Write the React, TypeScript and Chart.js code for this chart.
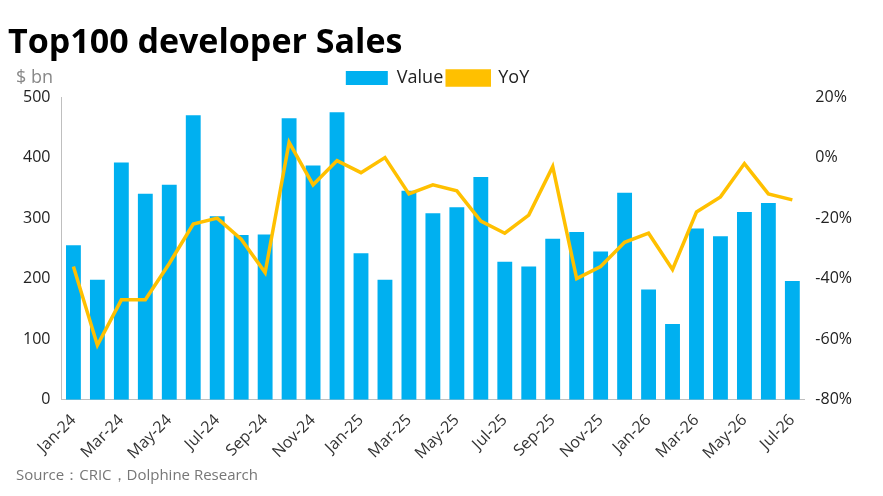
import React, { useEffect, useRef } from "react";
import { Chart, registerables } from "chart.js";
Chart.register(...registerables);

const categories = ["Jan-24","Feb-24","Mar-24","Apr-24","May-24","Jun-24","Jul-24","Aug-24","Sep-24","Oct-24","Nov-24","Dec-24","Jan-25","Feb-25","Mar-25","Apr-25","May-25","Jun-25","Jul-25","Aug-25","Sep-25","Oct-25","Nov-25","Dec-25","Jan-26","Feb-26","Mar-26","Apr-26","May-26","Jun-26","Jul-26"];
const valueSeries = [255,198,392,340,355,470,303,272,273,465,387,475,242,198,345,308,318,368,228,220,266,277,245,342,182,125,283,270,310,325,196];
const yoySeries = [-36,-62,-47,-47,-35,-22,-20,-27,-38,5,-9,-1,-5,0,-12,-9,-11,-21,-25,-19,-3,-40,-36,-28,-25,-37,-18,-13,-2,-12,-14];

const FONT = "'Open Sans', sans-serif";

export default function App() {
  const ref = useRef<HTMLCanvasElement>(null);
  useEffect(() => {
    const chart = new Chart(ref.current!, {
      type: "bar",
      data: {
        labels: categories,
        datasets: [
          { type: "bar", label: "Value", data: valueSeries, yAxisID: "y", backgroundColor: "#00B0F0", barPercentage: 0.62, categoryPercentage: 1, order: 1 },
          { type: "line", label: "YoY", data: yoySeries, yAxisID: "y1", borderColor: "#FFC000", backgroundColor: "#FFC000", borderWidth: 3.5, pointRadius: 0, tension: 0, order: 0 },
        ],
      },
      options: {
        animation: false,
        responsive: false,
        layout: { padding: { left: 20, right: 28, top: 65, bottom: 30 } },
        plugins: {
          legend: {
            position: "top",
            labels: { font: { family: FONT, size: 18 }, color: "#222", boxWidth: 42, boxHeight: 14, padding: 4,
              sort: (a: any, b: any) => a.datasetIndex - b.datasetIndex },
          },
          tooltip: { enabled: false },
        },
        scales: {
          x: {
            grid: { display: false },
            border: { color: "#bfbfbf" },
            ticks: { autoSkip: false, maxRotation: 45, minRotation: 45, font: { family: FONT, size: 16 }, color: "#333",
              callback: (_v: any, i: number) => (i % 2 === 0 ? categories[i] : "") },
          },
          y: {
            min: 0, max: 500,
            ticks: { stepSize: 100, font: { family: FONT, size: 16 }, color: "#222" },
            grid: { display: false },
            border: { color: "#bfbfbf" },
          },
          y1: {
            position: "right", min: -80, max: 20,
            ticks: { stepSize: 20, font: { family: FONT, size: 16 }, color: "#222", callback: (v: any) => v + "%" },
            grid: { display: false },
            border: { display: false },
          },
        },
      },
    });
    return () => chart.destroy();
  }, []);
  return (
    <div style={{ position: "relative", width: 867, height: 480, fontFamily: FONT, background: "#fff" }}>
      <canvas ref={ref} width={883} height={496} style={{ position: "absolute", left: -8, top: -8 }} />
      <div style={{ position: "absolute", left: 0, top: 12, fontSize: 34, fontWeight: 700, color: "#000", lineHeight: "40px" }}>Top100 developer Sales</div>
      <div style={{ position: "absolute", left: 8, top: 56, fontSize: 18, color: "#888" }}>$ bn</div>
      <div style={{ position: "absolute", left: 8, top: 456, fontSize: 15, color: "#777", lineHeight: "20px" }}>Source：CRIC，Dolphine Research</div>
    </div>
  );
}
